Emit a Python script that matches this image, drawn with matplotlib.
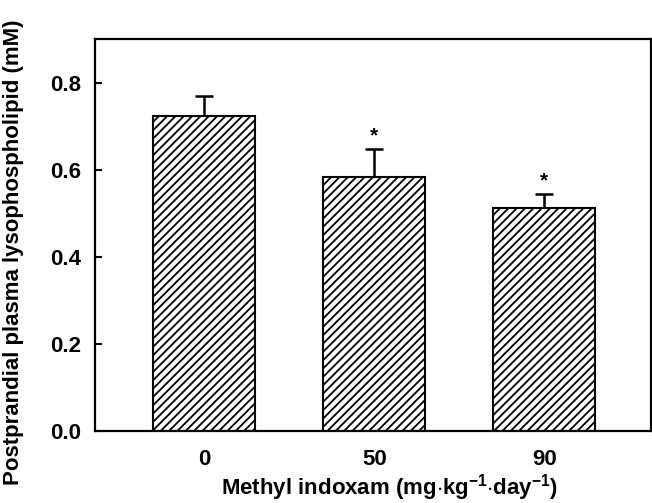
import matplotlib.pyplot as plt
import numpy as np

# doses and measured values
doses = ["0", "50", "90"]
means = [0.724, 0.584, 0.513]
errors = [0.044, 0.064, 0.032]
significant = [False, True, True]

plt.rcParams['font.family'] = ['Liberation Sans', 'DejaVu Sans']
plt.rcParams['font.weight'] = 'bold'
plt.rcParams['mathtext.fontset'] = 'custom'
plt.rcParams['mathtext.rm'] = 'Liberation Sans:bold'
plt.rcParams['mathtext.bf'] = 'Liberation Sans:bold'
plt.rcParams['mathtext.it'] = 'Liberation Sans:bold'
plt.rcParams['mathtext.default'] = 'rm'
plt.rcParams['hatch.linewidth'] = 1.3

fig = plt.figure(figsize=(6.52, 5.03), dpi=100)
ax = fig.add_axes([95 / 652, 1 - 431 / 503, 556 / 652, 392 / 503])

x = np.arange(len(doses))
ax.bar(x, means, width=0.6, color="white", edgecolor="black", linewidth=1.5,
       hatch="////", zorder=2)
ax.errorbar(x, means, yerr=[np.zeros(len(means)), errors], fmt="none",
            ecolor="black", elinewidth=1.8, capsize=6.5, capthick=1.8, zorder=1)

# significance marks above error bars
for xi, m, e, s in zip(x, means, errors, significant):
    if s:
        ax.text(xi, m + e + 0.008, "*", ha="center", va="bottom", fontsize=15,
                fontweight="bold")

ax.set_xlim(-0.644, 2.627)
ax.set_ylim(0, 0.9)
ax.set_yticks([0.0, 0.2, 0.4, 0.6, 0.8])
ax.set_yticklabels(["0.0", "0.2", "0.4", "0.6", "0.8"])
ax.set_xticks(x)
ax.set_xticklabels(doses)
ax.tick_params(axis="y", direction="in", length=5, width=1.5, labelsize=16, pad=10)
ax.tick_params(axis="x", length=0, labelsize=16, pad=13)
for sp in ax.spines.values():
    sp.set_linewidth(1.6)

ax.set_ylabel("Postprandial plasma lysophospholipid (mM)", fontsize=16,
              fontweight="bold", va="center")
ax.set_xlabel("Methyl indoxam (mg$\\cdot$kg$^{-1}$$\\cdot$day$^{-1}$)",
              fontsize=16, fontweight="bold", va="center")
ax.yaxis.set_label_coords((13 - 95) / 556, (431 - 252) / 392)
ax.xaxis.set_label_coords((390 - 95) / 556, (431 - 488) / 392)

fig.savefig("out.png", dpi=100)
